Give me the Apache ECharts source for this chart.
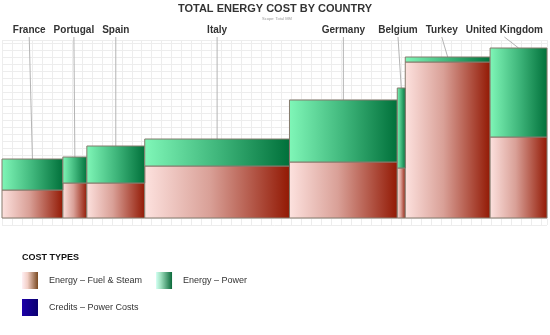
<!DOCTYPE html>
<html>
<head>
<meta charset="utf-8">
<script src="https://cdn.jsdelivr.net/npm/echarts@6/dist/echarts.min.js"></script>
<style>
html,body{margin:0;padding:0;background:#fff;}
#chart{width:550px;height:335px;}
</style>
</head>
<body>
<div id="chart"></div>
<script>
// ---- data ----
const countries = ['France', 'Portugal', 'Spain', 'Italy', 'Germany', 'Belgium', 'Turkey', 'United Kingdom'];
const countryWeights = [61, 24, 58, 145, 108, 8, 85, 57];       // bar widths (share of volume)
const fuelSteam = [28, 35, 35, 52, 56, 50, 156, 81];            // Energy – Fuel & Steam
const powerCost = [31, 26, 37, 27, 62, 80, 5, 89];              // Energy – Power
const creditsPower = [0, 0, 0, 0, 0, 0, 0, 0];                  // Credits – Power Costs
const seriesNames = ['Energy – Fuel & Steam', 'Energy – Power', 'Credits – Power Costs'];
const titleText = 'TOTAL ENERGY COST BY COUNTRY';
const subtitleText = 'Scope: Total MM';
const legendTitle = 'COST TYPES';

// ---- derived layout from data ----
const starts = [];
let acc = 0;
countryWeights.forEach(w => { starts.push(acc); acc += w; });
const totalWeight = acc;

const fuelData = countries.map((c, i) => [starts[i], starts[i] + countryWeights[i], 0, fuelSteam[i]]);
const powerData = countries.map((c, i) => [starts[i], starts[i] + countryWeights[i], fuelSteam[i], fuelSteam[i] + powerCost[i] + creditsPower[i]]);
const labelData = countries.map((c, i) => [starts[i] + countryWeights[i] / 2, fuelSteam[i] + powerCost[i] + creditsPower[i]]);

const G = echarts.graphic;
const fuelFill = () => new G.LinearGradient(0, 0, 1, 0, [
  { offset: 0, color: '#fde2df' }, { offset: 0.45, color: '#d9a097' }, { offset: 1, color: '#921803' }]);
const powerFill = () => new G.LinearGradient(0, 0, 1, 0, [
  { offset: 0, color: '#80f7b8' }, { offset: 0.5, color: '#40b77c' }, { offset: 1, color: '#00703a' }]);

function makeBarRenderer(fillFn) {
  return function (params, api) {
    const p0 = api.coord([api.value(0), api.value(3)]);
    const p1 = api.coord([api.value(1), api.value(2)]);
    return {
      type: 'rect',
      shape: { x: p0[0], y: p0[1], width: p1[0] - p0[0], height: p1[1] - p0[1] },
      style: { fill: fillFn(), stroke: '#857a6c', lineWidth: 1 }
    };
  };
}

const labelFont = 'bold 10px "Liberation Sans", Arial, sans-serif';
const measureCtx = document.createElement('canvas').getContext('2d');
measureCtx.font = labelFont;
const labelWidths = countries.map(c => measureCtx.measureText(c).width);

function layoutLabels(api) {
  const centers = labelData.map(d => api.coord([d[0], 0])[0]);
  const out = centers.slice();
  let limit = 543;
  for (let i = out.length - 1; i >= 0; i--) {
    const w = labelWidths[i];
    const right = Math.min(out[i] + w / 2, limit);
    out[i] = right - w / 2;
    limit = out[i] - w / 2 - 8;
  }
  return out;
}

function renderLabel(params, api) {
  const i = params.dataIndex;
  const lx = layoutLabels(api)[i];
  const top = api.coord([api.value(0), api.value(1)]);
  return {
    type: 'group',
    children: [
      { type: 'line', shape: { x1: lx, y1: 37, x2: top[0], y2: top[1] },
        style: { stroke: '#b4b4b4', lineWidth: 1 } },
      { type: 'text', style: { text: countries[i], x: lx, y: 30, align: 'center', verticalAlign: 'middle',
        font: labelFont, fill: '#333333' } }
    ]
  };
}

const legendBase = {
  padding: 0, icon: 'rect', itemWidth: 16, itemHeight: 17, itemGap: 14,
  selectedMode: false,
  textStyle: { fontFamily: 'Liberation Sans', fontSize: 9, color: '#333333', padding: [0, 0, 0, 6] }
};

const chart = echarts.init(document.getElementById('chart'), null, { renderer: 'canvas' });
chart.setOption({
  animation: false,
  backgroundColor: '#ffffff',
  title: [
    { text: titleText, left: 'center', top: 3, padding: 0,
      textStyle: { fontFamily: 'Liberation Sans', fontWeight: 'bold', fontSize: 11, color: '#333333' } },
    { text: subtitleText, left: 262, top: 17, padding: 0,
      textStyle: { fontFamily: 'Liberation Sans', fontWeight: 'normal', fontSize: 4, color: '#999999' } },
    { text: legendTitle, left: 22, top: 253, padding: 0,
      textStyle: { fontFamily: 'Liberation Sans', fontWeight: 'bold', fontSize: 9, color: '#111111' } }
  ],
  legend: [
    Object.assign({}, legendBase, { data: seriesNames.slice(0, 2), left: 22, top: 272 }),
    Object.assign({}, legendBase, { data: seriesNames.slice(2), left: 22, top: 299 })
  ],
  grid: { left: 2, right: 3, top: 40, bottom: 110, containLabel: false },
  xAxis: {
    type: 'value', min: 0, max: totalWeight, interval: 10,
    axisLine: { show: false }, axisTick: { show: false }, axisLabel: { show: false },
    splitLine: { show: true, lineStyle: { color: '#ededed', width: 1 } }
  },
  yAxis: {
    type: 'value', min: -7, max: 178, interval: 7,
    axisLine: { show: false }, axisTick: { show: false }, axisLabel: { show: false },
    splitLine: { show: true, lineStyle: { color: '#ededed', width: 1 } }
  },
  series: [
    { type: 'custom', name: 'leaders', data: labelData, renderItem: renderLabel, clip: false, z: 1,
      encode: { x: 0, y: 1 }, silent: true },
    { type: 'custom', name: seriesNames[0], data: fuelData, renderItem: makeBarRenderer(fuelFill), z: 3,
      encode: { x: [0, 1], y: [2, 3] },
      itemStyle: { color: new G.LinearGradient(0, 0, 1, 0, [
        { offset: 0, color: '#fff0f4' }, { offset: 0.35, color: '#f2cfc6' }, { offset: 1, color: '#7a4a22' }]) } },
    { type: 'custom', name: seriesNames[1], data: powerData, renderItem: makeBarRenderer(powerFill), z: 3,
      encode: { x: [0, 1], y: [2, 3] },
      itemStyle: { color: new G.LinearGradient(0, 0, 1, 0, [
        { offset: 0, color: '#d2fff2' }, { offset: 0.3, color: '#9fe0bf' }, { offset: 1, color: '#0b6a3a' }]) } },
    { type: 'custom', name: seriesNames[2], data: creditsPower.filter(v => v > 0),
      renderItem: makeBarRenderer(() => '#10008f'), z: 3,
      itemStyle: { color: new G.LinearGradient(0, 0, 1, 0, [
        { offset: 0, color: '#1c00a8' }, { offset: 1, color: '#0a0070' }]) } }
  ]
});
</script>
</body>
</html>
